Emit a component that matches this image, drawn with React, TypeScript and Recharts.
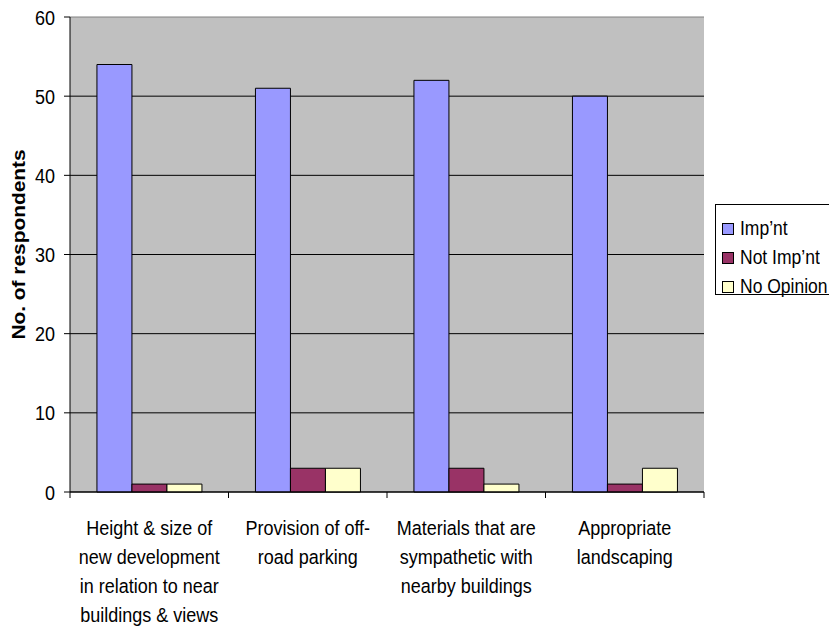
import { BarChart, Bar, XAxis, YAxis, CartesianGrid, Label } from "recharts";

const categories = [
  "Height & size of\nnew development\nin relation to near\nbuildings & views",
  "Provision of off-\nroad parking",
  "Materials that are\nsympathetic with\nnearby buildings",
  "Appropriate\nlandscaping",
];
const impnt = [54, 51, 52, 50];
const notImpnt = [1, 3, 3, 1];
const noOpinion = [1, 3, 1, 3];
const yTicks = [0, 10, 20, 30, 40, 50, 60];

const series = [
  { key: "impnt", name: "Imp’nt", color: "#9999FF" },
  { key: "notImpnt", name: "Not Imp’nt", color: "#993366" },
  { key: "noOpinion", name: "No Opinion", color: "#FFFFCC" },
];

const data = categories.map((category, i) => ({
  category,
  impnt: impnt[i],
  notImpnt: notImpnt[i],
  noOpinion: noOpinion[i],
}));

const FONT = "'Liberation Sans', Arial, sans-serif";
const STRETCH = 1.16;

function CategoryTick(props: any) {
  const { x, y, payload, visibleTicksCount } = props;
  const half = payload.offset ?? 0;
  const lines = String(payload.value).split("\n");
  const last = payload.index === visibleTicksCount - 1;
  return (
    <g>
      <line x1={x - half} x2={x - half} y1={y} y2={y + 6} stroke="#000" />
      {last && <line x1={x + half} x2={x + half} y1={y} y2={y + 6} stroke="#000" />}
      <g transform={`translate(${x},${y + 35}) scale(1,${STRETCH})`}>
        <text textAnchor="middle" fontSize={18} fill="#000" fontFamily={FONT}>
          {lines.map((l, i) => (
            <tspan key={i} x={0} y={i * 25} dy="0.36em">
              {l}
            </tspan>
          ))}
        </text>
      </g>
    </g>
  );
}

function ValueTick({ x, y, payload }: any) {
  return (
    <g transform={`translate(${x},${y}) scale(1,${STRETCH})`}>
      <text textAnchor="end" dy="0.36em" fontSize={18} fill="#000" fontFamily={FONT}>
        {payload.value}
      </text>
    </g>
  );
}

function AxisTitle({ viewBox }: any) {
  const cy = viewBox.y + viewBox.height / 2 - 10;
  return (
    <g transform={`translate(${viewBox.x + 25},${cy}) rotate(-90) scale(${STRETCH},1)`}>
      <text textAnchor="middle" fontSize={18} fontWeight="bold" fill="#000" fontFamily={FONT}>
        No. of respondents
      </text>
    </g>
  );
}

function GridLine(props: any) {
  const top = Math.abs(props.y1 - props.y) < 1;
  return (
    <line
      x1={props.x1}
      x2={props.x2}
      y1={props.y1}
      y2={props.y2}
      stroke={top ? "#808080" : "#000"}
      strokeWidth={1}
    />
  );
}

export default function App() {
  return (
    <div style={{ position: "absolute", left: 0, top: 0, width: 829, height: 627, overflow: "hidden", background: "#fff", fontFamily: FONT }}>
      <BarChart
        width={829}
        height={627}
        data={data}
        margin={{ top: 17, right: 125, bottom: 0, left: 0 }}
        barCategoryGap="17%"
        barGap={0}
      >
        <CartesianGrid vertical={false} fill="#C0C0C0" horizontal={GridLine} />
        <XAxis
          dataKey="category"
          height={135}
          interval={0}
          tickSize={0}
          tickMargin={0}
          tickLine={false}
          axisLine={{ stroke: "#000" }}
          tick={CategoryTick}
        />
        <YAxis
          width={70}
          domain={[0, 60]}
          ticks={yTicks}
          interval={0}
          tickSize={6}
          tickMargin={9}
          tickLine={{ stroke: "#000" }}
          axisLine={{ stroke: "#000" }}
          tick={ValueTick}
        >
          <Label content={AxisTitle} />
        </YAxis>
        <YAxis
          yAxisId="edge"
          orientation="right"
          width={0}
          domain={[0, 60]}
          tick={false}
          tickLine={false}
          axisLine={{ stroke: "#808080" }}
        />
        {series.map((s) => (
          <Bar
            key={s.key}
            dataKey={s.key}
            name={s.name}
            fill={s.color}
            stroke="#000"
            strokeWidth={1}
            isAnimationActive={false}
          />
        ))}
      </BarChart>
      <div
        style={{
          position: "absolute",
          left: 715,
          top: 204,
          width: 130,
          height: 91,
          boxSizing: "border-box",
          border: "1px solid #000",
          background: "#fff",
          paddingTop: 9,
          paddingLeft: 6,
        }}
      >
        {series.map((s) => (
          <div key={s.key} style={{ display: "flex", alignItems: "center", height: 29, gap: 6 }}>
            <span
              style={{
                width: 12,
                height: 12,
                boxSizing: "border-box",
                border: "1px solid #000",
                background: s.color,
                display: "inline-block",
              }}
            />
            <span
              style={{
                fontSize: 17.5,
                color: "#000",
                display: "inline-block",
                whiteSpace: "nowrap",
                transform: `scaleY(${STRETCH})`,
              }}
            >
              {s.name}
            </span>
          </div>
        ))}
      </div>
    </div>
  );
}
